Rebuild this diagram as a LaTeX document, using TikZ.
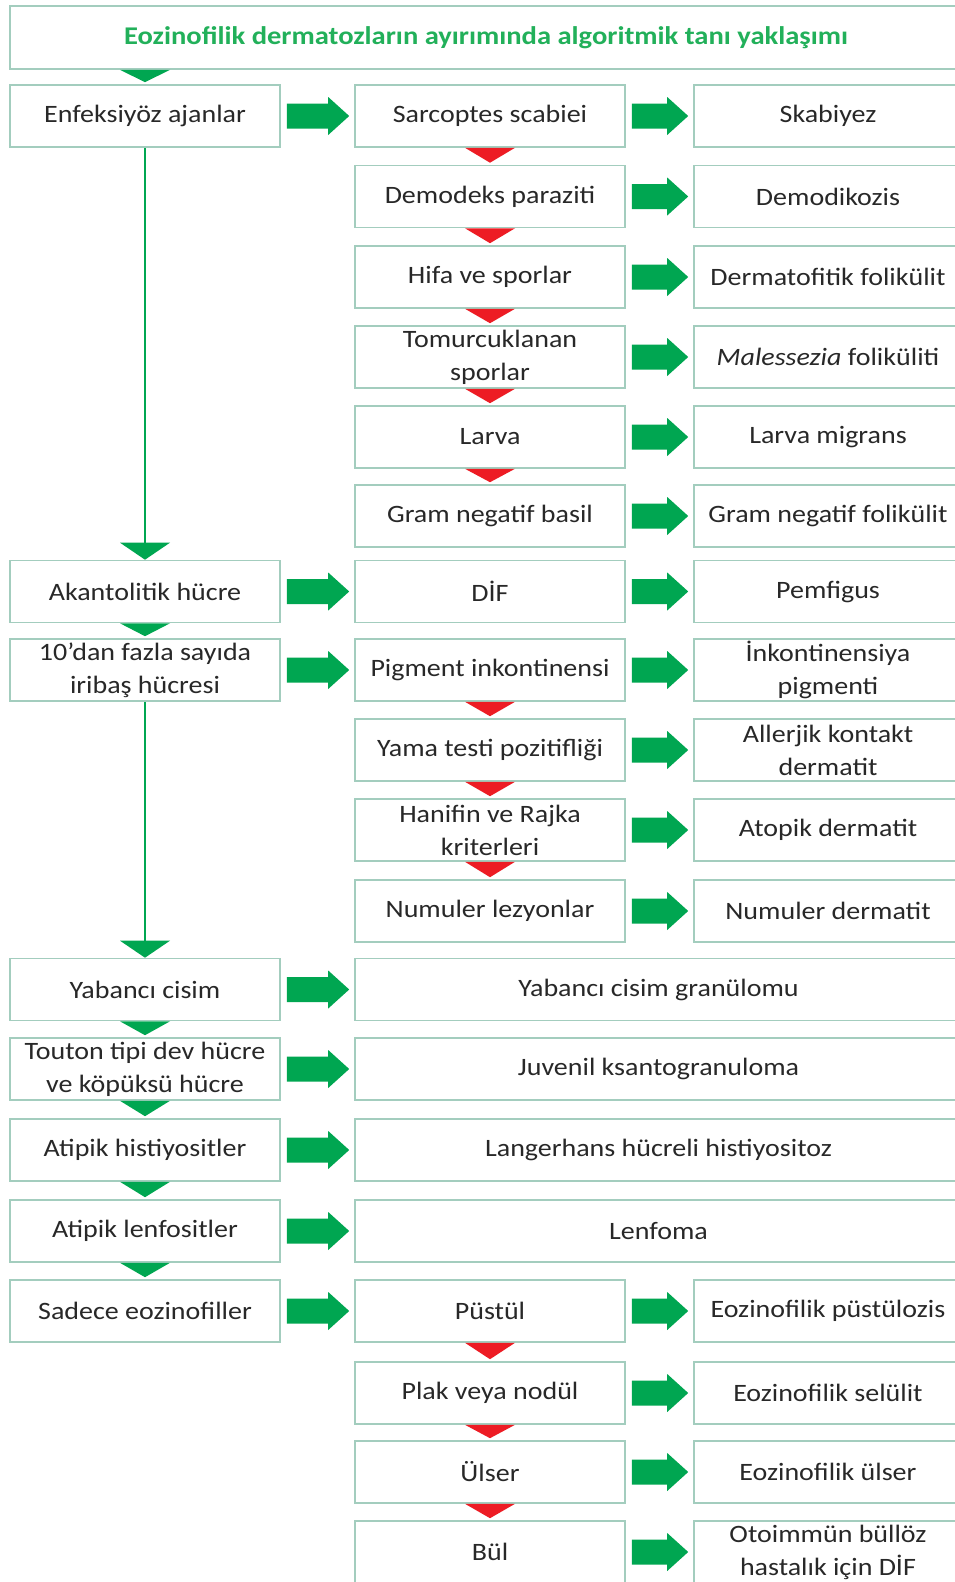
\documentclass[tikz,border=0pt]{standalone}
\usepackage{fontspec}
\setmainfont{Carlito}[FakeStretch=1.12]
\usetikzlibrary{calc}

\definecolor{boxline}{HTML}{A3CDBE}
\definecolor{arrgreen}{HTML}{00A651}
\definecolor{titlegreen}{HTML}{22B05A}
\definecolor{arrred}{HTML}{ED1C24}
\definecolor{textgray}{HTML}{282828}

\tikzset{
  box/.style={draw=boxline, line width=1.6pt, fill=white, text=textgray,
    minimum width=270pt, minimum height=62pt, inner sep=0pt, align=center,
    font=\fontsize{25}{33}\selectfont},
  rightbox/.style={box, minimum width=268pt},
  widebox/.style={box, minimum width=607pt},
  downline/.style={draw=arrgreen, line width=2.5pt},
}

% fat green arrow between two boxes of one row
\newcommand{\blockarrow}[2]{%
  \fill[arrgreen] let \p1=(#1.east), \p2=(#2.west) in
    (\x1+6pt,\y1+12.5pt) -- (\x2-26pt,\y1+12.5pt) -- (\x2-26pt,\y1+19pt)
    -- (\x2-5pt,\y1) -- (\x2-26pt,\y1-19pt) -- (\x2-26pt,\y1-12.5pt)
    -- (\x1+6pt,\y1-12.5pt) -- cycle;}
% triangle from the lower edge of one box to the top of the next
\newcommand{\downtri}[3]{%
  \fill[#3] ($(#1.south -| #2.north)+(-25,0)$) -- ($(#1.south -| #2.north)+(25,0)$)
    -- ($(#2.north)+(0,-2)$) -- cycle;}
% long green line with its triangle
\newcommand{\longlink}[2]{%
  \draw[downline] (#1.south) -- ($(#2.north)+(0,-17)$);
  \fill[arrgreen] ($(#2.north)+(-25,-17)$) -- ($(#2.north)+(25,-17)$)
    -- (#2.north) -- cycle;}

\begin{document}
\begin{tikzpicture}[x=1pt, y=-1pt]
	\useasboundingbox (0,0) rectangle (955,1582);
	\fill[white] (0,0) rectangle (955,1582);

	% Define title
	\node[box, minimum width=952pt, minimum height=63pt, text=titlegreen,
	  font=\fontsize{25.5}{31}\selectfont\bfseries] (Title) at (486,37.5)
	  {Eozinofilik dermatozların ayırımında algoritmik tanı yaklaşımı};

	% Define infectious agents
	\node[box] (Enfeksiyoz) at (145,116) {Enfeksiyöz ajanlar};
	\node[box] (Sarcoptes) at (490,116) {Sarcoptes scabiei};
	\node[rightbox] (Skabiyez) at (828,116) {Skabiyez};
	\node[box] (Demodeks) at (490,196.5) {Demodeks paraziti};
	\node[rightbox] (Demodikozis) at (828,196.5) {Demodikozis};
	\node[box] (Hifa) at (490,277) {Hifa ve sporlar};
	\node[rightbox] (Dermatofitik) at (828,277) {Dermatofitik folikülit};
	\node[box] (Tomurcuklanan) at (490,357) {Tomurcuklanan\\sporlar};
	\node[rightbox] (Malessezia) at (828,357) {\textit{Malessezia} foliküliti};
	\node[box] (Larva) at (490,437) {Larva};
	\node[rightbox] (LarvaMigrans) at (828,437) {Larva migrans};
	\node[box] (GramBasil) at (490,516) {Gram negatif basil};
	\node[rightbox] (GramFolikulit) at (828,516) {Gram negatif folikülit};

	% Define acantholytic cell
	\node[box] (Akantolitik) at (145,591.5) {Akantolitik hücre};
	\node[box] (DIF) at (490,591.5) {DİF};
	\node[rightbox] (Pemfigus) at (828,591.5) {Pemfigus};

	% Define tadpole cells
	\node[box] (Iribas) at (145,670) {10’dan fazla sayıda\\iribaş hücresi};
	\node[box] (Pigment) at (490,670) {Pigment inkontinensi};
	\node[rightbox] (Inkontinensiya) at (828,670) {İnkontinensiya\\pigmenti};
	\node[box] (Yama) at (490,750) {Yama testi pozitifliği};
	\node[rightbox] (Allerjik) at (828,750) {Allerjik kontakt\\dermatit};
	\node[box] (Hanifin) at (490,830) {Hanifin ve Rajka\\kriterleri};
	\node[rightbox] (Atopik) at (828,830) {Atopik dermatit};
	\node[box] (Numuler) at (490,911) {Numuler lezyonlar};
	\node[rightbox] (NumulerDermatit) at (828,911) {Numuler dermatit};

	% Define single findings
	\node[box] (Yabanci) at (145,989.5) {Yabancı cisim};
	\node[widebox] (Granulom) at (658.5,989.5) {Yabancı cisim granülomu};
	\node[box] (Touton) at (145,1069) {Touton tipi dev hücre\\ve köpüksü hücre};
	\node[widebox] (Juvenil) at (658.5,1069) {Juvenil ksantogranuloma};
	\node[box] (Histiyosit) at (145,1150) {Atipik histiyositler};
	\node[widebox] (Langerhans) at (658.5,1150) {Langerhans hücreli histiyositoz};
	\node[box] (Lenfosit) at (145,1231) {Atipik lenfositler};
	\node[widebox] (Lenfoma) at (658.5,1231) {Lenfoma};

	% Define eosinophils only
	\node[box] (Eozinofil) at (145,1311) {Sadece eozinofiller};
	\node[box] (Pustul) at (490,1311) {Püstül};
	\node[rightbox] (Pustulozis) at (828,1311) {Eozinofilik püstülozis};
	\node[box] (Plak) at (490,1393) {Plak veya nodül};
	\node[rightbox] (Selulit) at (828,1393) {Eozinofilik selülit};
	\node[box] (Ulser) at (490,1472) {Ülser};
	\node[rightbox] (EozUlser) at (828,1472) {Eozinofilik ülser};
	\node[box] (Bul) at (490,1552) {Bül};
	\node[rightbox] (Otoimmun) at (828,1552) {Otoimmün büllöz\\hastalık için DİF};

	% Green links down the left column
	\downtri{Title}{Enfeksiyoz}{arrgreen}
	\longlink{Enfeksiyoz}{Akantolitik}
	\downtri{Akantolitik}{Iribas}{arrgreen}
	\longlink{Iribas}{Yabanci}
	\downtri{Yabanci}{Touton}{arrgreen}
	\downtri{Touton}{Histiyosit}{arrgreen}
	\downtri{Histiyosit}{Lenfosit}{arrgreen}
	\downtri{Lenfosit}{Eozinofil}{arrgreen}

	% Red links down the middle column
	\downtri{Sarcoptes}{Demodeks}{arrred}
	\downtri{Demodeks}{Hifa}{arrred}
	\downtri{Hifa}{Tomurcuklanan}{arrred}
	\downtri{Tomurcuklanan}{Larva}{arrred}
	\downtri{Larva}{GramBasil}{arrred}
	\downtri{Pigment}{Yama}{arrred}
	\downtri{Yama}{Hanifin}{arrred}
	\downtri{Hanifin}{Numuler}{arrred}
	\downtri{Pustul}{Plak}{arrred}
	\downtri{Plak}{Ulser}{arrred}
	\downtri{Ulser}{Bul}{arrred}

	% Arrows to the right
	\blockarrow{Enfeksiyoz}{Sarcoptes}
	\blockarrow{Sarcoptes}{Skabiyez}
	\blockarrow{Demodeks}{Demodikozis}
	\blockarrow{Hifa}{Dermatofitik}
	\blockarrow{Tomurcuklanan}{Malessezia}
	\blockarrow{Larva}{LarvaMigrans}
	\blockarrow{GramBasil}{GramFolikulit}
	\blockarrow{Akantolitik}{DIF}
	\blockarrow{DIF}{Pemfigus}
	\blockarrow{Iribas}{Pigment}
	\blockarrow{Pigment}{Inkontinensiya}
	\blockarrow{Yama}{Allerjik}
	\blockarrow{Hanifin}{Atopik}
	\blockarrow{Numuler}{NumulerDermatit}
	\blockarrow{Yabanci}{Granulom}
	\blockarrow{Touton}{Juvenil}
	\blockarrow{Histiyosit}{Langerhans}
	\blockarrow{Lenfosit}{Lenfoma}
	\blockarrow{Eozinofil}{Pustul}
	\blockarrow{Pustul}{Pustulozis}
	\blockarrow{Plak}{Selulit}
	\blockarrow{Ulser}{EozUlser}
	\blockarrow{Bul}{Otoimmun}
\end{tikzpicture}
\end{document}
